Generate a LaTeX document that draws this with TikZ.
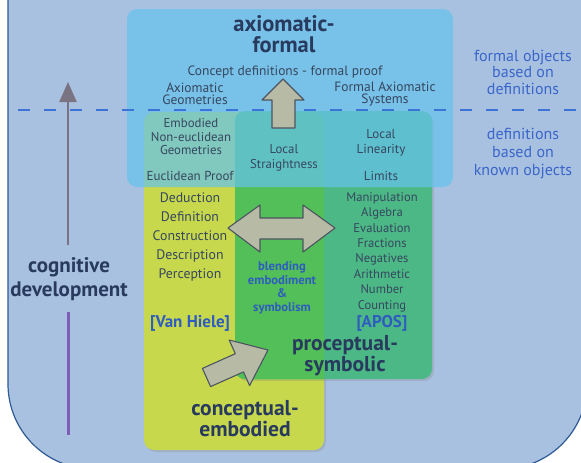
\documentclass[tikz,border=0pt]{standalone}
\usepackage{fontspec}
\setmainfont{PT Sans}
\usetikzlibrary{shadows,arrows.meta}
\definecolor{bgc}{HTML}{A9C1E1}
\definecolor{bordc}{HTML}{2F5A94}
\definecolor{bluebox}{HTML}{66C2EC}
\definecolor{yellowbox}{HTML}{C8D84C}
\definecolor{procbox}{HTML}{4CB886}
\definecolor{overlapc}{HTML}{52BF58}
\definecolor{textc}{HTML}{36475F}
\definecolor{headc}{HTML}{283A5E}
\definecolor{bluet}{HTML}{3A66CA}
\definecolor{boldblue}{HTML}{2E5DBF}
\definecolor{dashc}{HTML}{3D72D6}
\definecolor{arrowfill}{HTML}{B7BBA5}
\definecolor{arrowdraw}{HTML}{4C5560}
\definecolor{grayline}{HTML}{7A7382}
\definecolor{purpline}{HTML}{7E5DB8}
\tikzset{
  boxshadow/.style={drop shadow={opacity=0.25,shadow xshift=2pt,shadow yshift=-2pt}},
  fatarrow/.style={fill=arrowfill,draw=arrowdraw,line width=1.1pt,line join=round},
  lbl/.style={text=textc,align=center,inner sep=0pt,font=\fontsize{13}{14}\selectfont},
  head/.style={text=headc,align=center,inner sep=0pt,font=\fontsize{21.5}{21}\selectfont\bfseries},
  bluelbl/.style={text=boldblue,align=center,inner sep=0pt,font=\fontsize{17}{18}\selectfont\bfseries},
  sidelbl/.style={text=bluet,align=center,inner sep=0pt,font=\fontsize{16}{16.5}\selectfont},
}
\begin{document}
\begin{tikzpicture}[x=1pt,y=-1pt]
\useasboundingbox (0,0) rectangle (581,463);
% background
\begin{scope}
\clip (0,0) rectangle (581,463);
\fill[white] (0,0) rectangle (581,463);
\draw[fill=bgc,draw=bordc,line width=1.2pt] (8,-100) [rounded corners=85pt] -- (8,469) -- (587,469) [sharp corners] -- (587,-100) -- cycle;
\end{scope}
% boxes
\fill[yellowbox,rounded corners=10pt,boxshadow] (144,112) rectangle (324,450);
\fill[procbox,rounded corners=10pt,boxshadow] (235,111) rectangle (432,379);
\begin{scope}
\clip[rounded corners=10pt] (144,112) rectangle (324,450);
\fill[overlapc,rounded corners=10pt] (235,111) rectangle (432,379);
\end{scope}
\fill[bluebox,rounded corners=10pt,fill opacity=0.72] (127,9) rectangle (453,187);
% dashed line
\draw[dashc,line width=2pt,dash pattern=on 12pt off 14pt] (18,110) -- (581,110);
% cognitive development axis
\draw[grayline,line width=2.5pt,-{Triangle[length=20pt,width=17pt]}] (68,245) -- (68,82);
\draw[purpline,line width=3pt] (68,312) -- (68,435);
% fat arrows
\draw[fatarrow] (272,128) -- (272,100) -- (262,100) -- (283,79) -- (304,100) -- (295,100) -- (295,128) -- cycle;
\draw[fatarrow] (228,228) -- (260,205) -- (260,218) -- (303,218) -- (303,205) -- (335,228) -- (303,252) -- (303,239) -- (260,239) -- (260,252) -- cycle;
\draw[fatarrow] (202.4,368.4) -- (235.3,353.7) -- (229.2,340.0) -- (268,350) -- (249.6,385.6) -- (243.5,371.9) -- (210.6,386.6) -- cycle;
% texts
\node[head,font=\fontsize{22.5}{21.5}\selectfont\bfseries] (axf) at (284,34) {axiomatic-\\formal};
\node[lbl,font=\fontsize{13.5}{14}\selectfont] (cdf) at (285,72) {Concept definitions - formal proof};
\node[lbl,font=\fontsize{13.5}{12.5}\selectfont] (axg) at (195,94) {Axiomatic\\Geometries};
\node[lbl,font=\fontsize{13.5}{12.5}\selectfont] (fas) at (385,94) {Formal Axiomatic\\Systems};
\node[lbl,font=\fontsize{12.8}{13.5}\selectfont] (eng) at (191,137) {Embodied\\Non-euclidean\\Geometries};
\node[lbl] (eup) at (190,176) {Euclidean Proof};
\node[lbl,font=\fontsize{12.8}{15}\selectfont] (lst) at (284,158) {Local\\Straightness};
\node[lbl,font=\fontsize{13}{15}\selectfont] (lli) at (381,143) {Local\\Linearity};
\node[lbl] (lim) at (381,176) {Limits};
\node[lbl,font=\fontsize{13.8}{18.8}\selectfont] (llist) at (190,237) {Deduction\\Definition\\Construction\\Description\\Perception};
\node[lbl,font=\fontsize{12.6}{15.4}\selectfont] (rlist) at (382,252) {Manipulation\\Algebra\\Evaluation\\Fractions\\Negatives\\Arithmetic\\Number\\Counting};
\node[bluelbl] (vh) at (190,323) {[Van Hiele]};
\node[bluelbl] (apos) at (382,323) {[APOS]};
\node[bluelbl,font=\fontsize{12.6}{13.5}\selectfont\bfseries] (blend) at (282,288) {blending\\embodiment\\\&\\symbolism};
\node[head] (ps) at (345,356) {proceptual-\\symbolic};
\node[head] (ce) at (245,419) {conceptual-\\embodied};
\node[head,font=\fontsize{21}{24}\selectfont\bfseries] (cog) at (69,279) {cognitive\\development};
\node[sidelbl] (fob) at (523,72) {formal objects\\based on\\definitions};
\node[sidelbl,font=\fontsize{16}{18}\selectfont] (dbk) at (523,154) {definitions\\based on\\known objects};
\end{tikzpicture}
\end{document}
